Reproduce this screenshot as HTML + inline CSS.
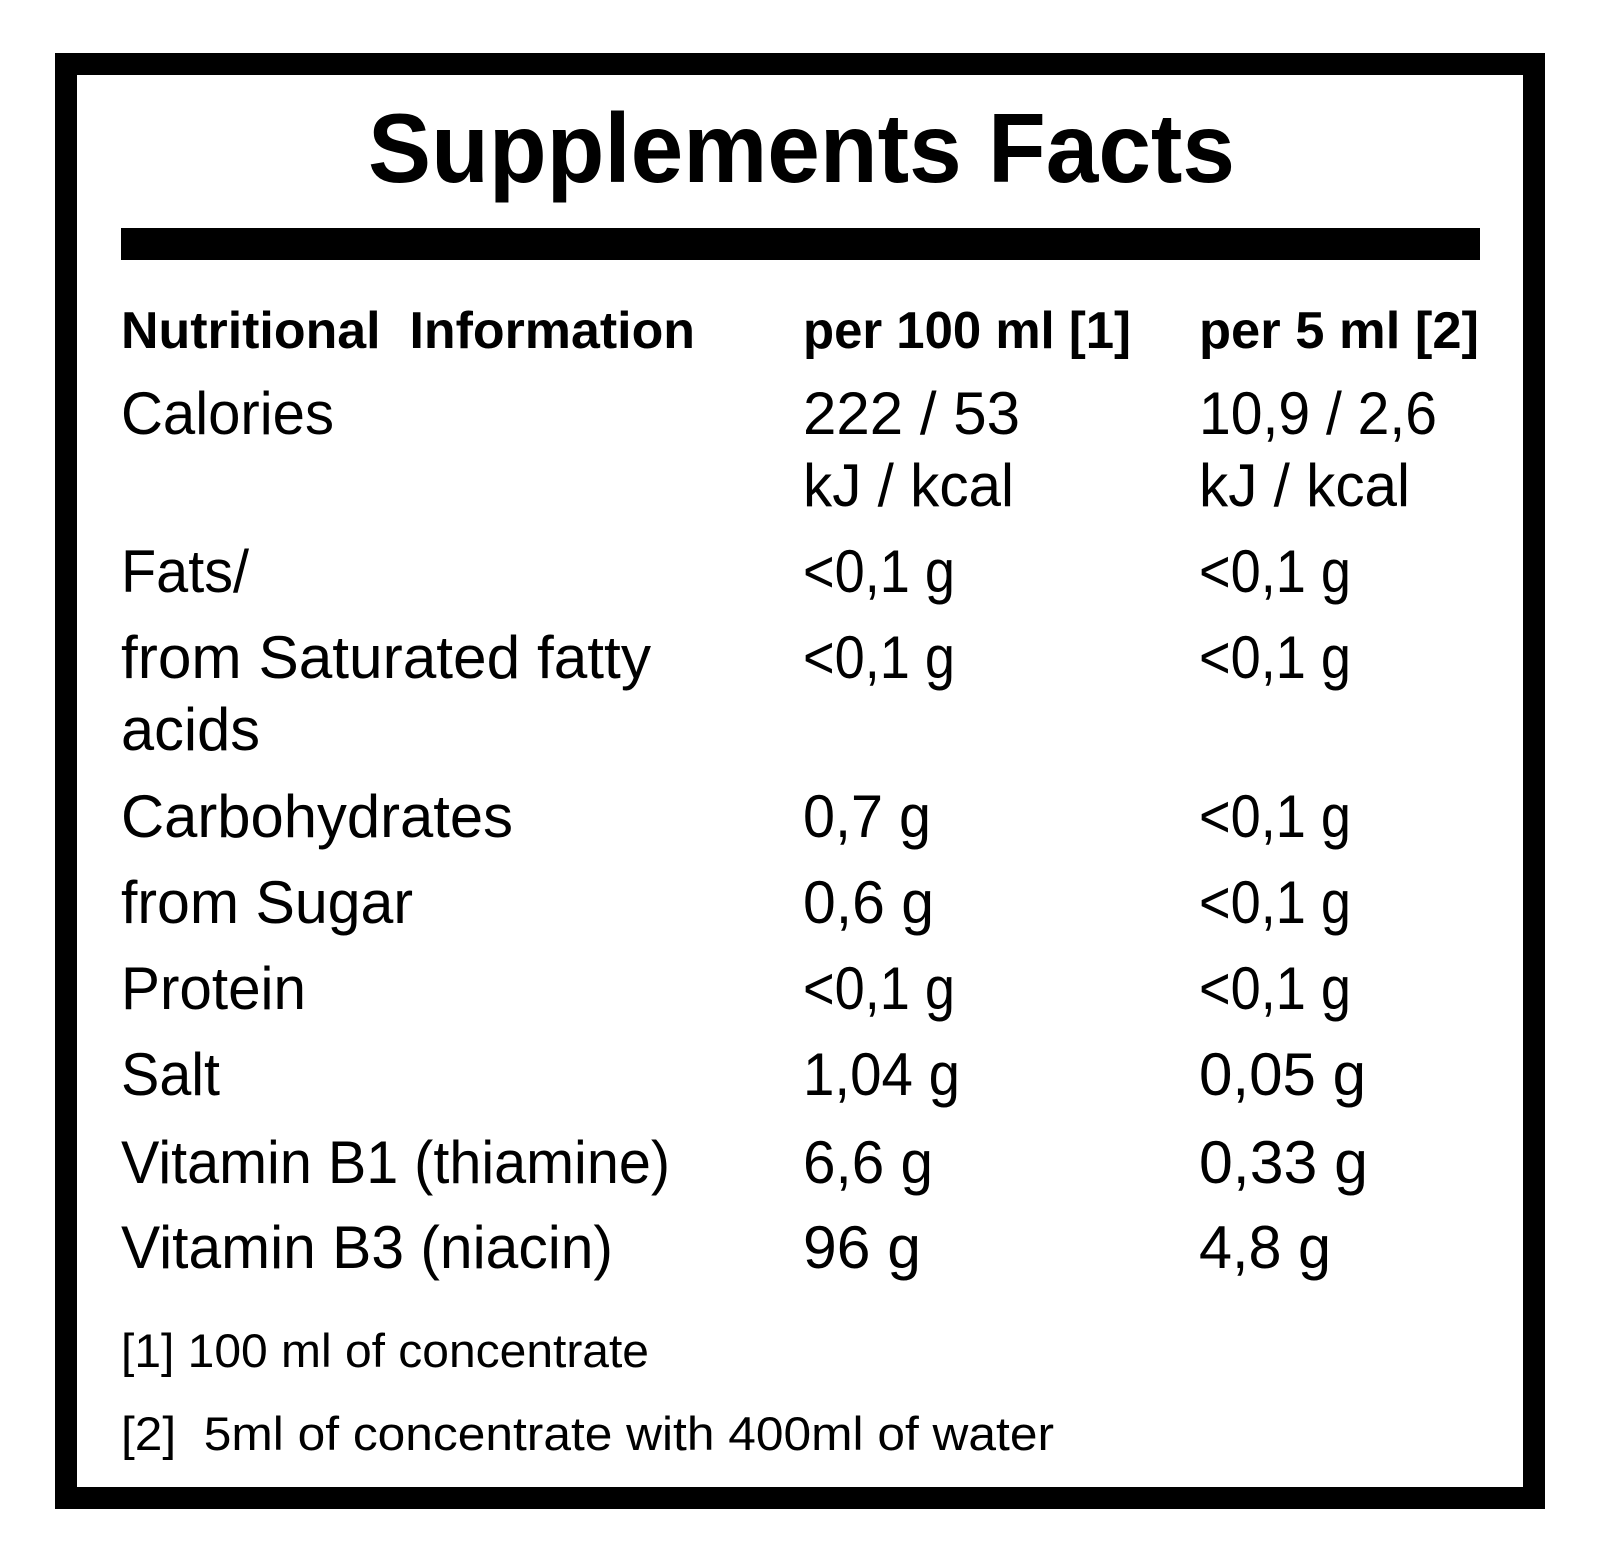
<!DOCTYPE html>
<html><head><meta charset="utf-8"><style>
html,body{margin:0;padding:0;background:#fff;}
svg{display:block;font-family:"Liberation Sans",Arial,sans-serif;}
</style></head><body>
<svg id="chart" width="1600" height="1562" viewBox="0 0 1600 1562" xmlns="http://www.w3.org/2000/svg">
<rect x="66" y="64" width="1468" height="1434" fill="none" stroke="#000" stroke-width="22"/>
<text x="368" y="182" font-size="98" font-weight="bold" textLength="867" lengthAdjust="spacingAndGlyphs">Supplements Facts</text>
<rect x="121" y="228" width="1359" height="32" fill="#000"/>
<g id="rows"></g>
</svg>
<script>
const labels=["Calories","","Fats/","from Saturated fatty","acids","Carbohydrates","from Sugar","Protein","Salt","Vitamin B1 (thiamine)","Vitamin B3 (niacin)"];
const per100=["222 / 53","kJ / kcal","<0,1 g","<0,1 g","","0,7 g","0,6 g","<0,1 g","1,04 g","6,6 g","96 g"];
const per5=["10,9 / 2,6","kJ / kcal","<0,1 g","<0,1 g","","<0,1 g","<0,1 g","<0,1 g","0,05 g","0,33 g","4,8 g"];
const labelW=[213,0,128,530,139,392,292,185,99,549,492];
const p100W=[217,211,152,152,0,128,131,152,157,130,118];
const p5W=[238,211,152,152,0,152,152,152,167,169,132];
const baselines=[434,506,592,678,750,837,923,1009,1095,1183,1268];
const g=document.getElementById('rows');
const NS="http://www.w3.org/2000/svg";
function t(x,y,s,size,w,weight,name){
  if(!s)return;
  const e=document.createElementNS(NS,'text');
  e.setAttribute('x',x);e.setAttribute('y',y);e.setAttribute('font-size',size);
  e.setAttribute('style','white-space:pre');
  if(weight)e.setAttribute('font-weight',weight);
  if(w){e.setAttribute('textLength',w);e.setAttribute('lengthAdjust','spacingAndGlyphs');}
  
  
  e.textContent=s;g.appendChild(e);
}
t(121,348,"Nutritional  Information",52,574,"bold","header-nutritional-information");
t(803,348,"per 100 ml [1]",52,328,"bold","header-per-100ml");
t(1199,348,"per 5 ml [2]",52,280,"bold","header-per-5ml");
for(let i=0;i<labels.length;i++){
  t(121,baselines[i],labels[i],60,labelW[i],null,"row-label");
  t(803,baselines[i],per100[i],60,p100W[i],null,"row-value-per-100ml");
  t(1199,baselines[i],per5[i],60,p5W[i],null,"row-value-per-5ml");
}
t(121,1367,"[1] 100 ml of concentrate",47,528,null,"footnote-1");
t(121,1450,"[2]  5ml of concentrate with 400ml of water",47,933,null,"footnote-2");
</script>
</body></html>
